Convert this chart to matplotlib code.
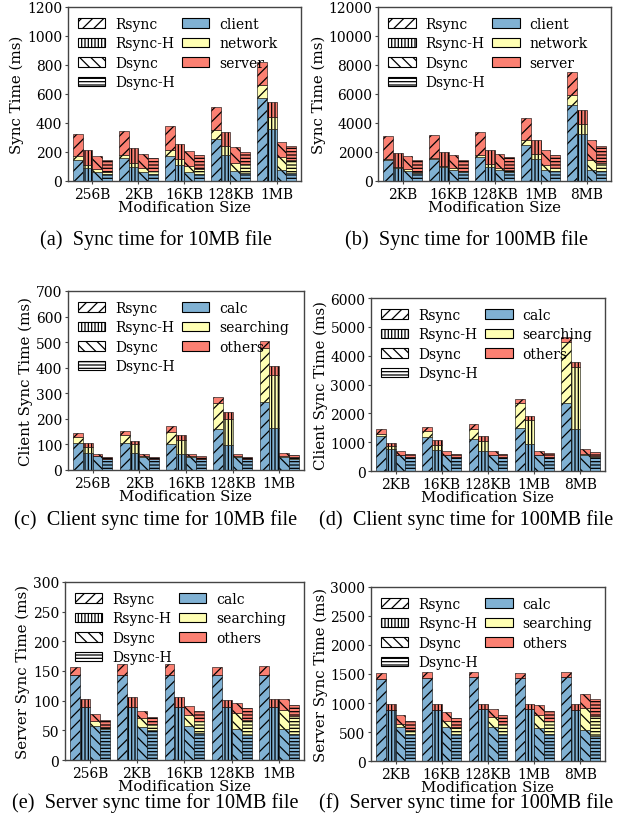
"""Stacked sync-time breakdown for Rsync / Dsync variants (six panels)."""

import os

os.environ.setdefault("MPLBACKEND", "Agg")
import matplotlib.pyplot as plt
from matplotlib.patches import Patch
import numpy as np

methods = ["Rsync", "Rsync-H", "Dsync", "Dsync-H"]
hatches = ["///", "|||||", "\\\\\\", "-----"]
sizes_10mb = ["256B", "2KB", "16KB", "128KB", "1MB"]
sizes_100mb = ["2KB", "16KB", "128KB", "1MB", "8MB"]
colors = ["#80b1d3", "#ffffb3", "#fb8072"]
parts_total = ["client", "network", "server"]
parts_side = ["calc", "searching", "others"]

# segment heights, one row per method (Rsync, Rsync-H, Dsync, Dsync-H)
a_client = [[148, 155, 171, 286, 572], [88, 97, 111, 180, 358],
            [65, 65, 65, 67, 76], [51, 51, 51, 53, 58]]
a_network = [[22, 23, 44, 65, 90], [22, 25, 39, 62, 85],
             [16, 23, 39, 60, 86], [14, 18, 34, 62, 85]]
a_server = [[153, 164, 163, 159, 160], [102, 104, 104, 97, 99],
            [92, 97, 104, 108, 110], [83, 86, 95, 88, 97]]

b_client = [[1430, 1523, 1662, 2492, 5262], [923, 969, 992, 1500, 3231],
            [692, 785, 762, 762, 762], [554, 623, 623, 669, 669]]
b_network = [[116, 69, 115, 300, 692], [69, 69, 162, 346, 692],
             [116, 115, 161, 323, 692], [69, 69, 115, 231, 600]]
b_server = [[1547, 1593, 1593, 1547, 1569], [970, 993, 992, 969, 969],
            [900, 923, 969, 1038, 1361], [808, 785, 901, 923, 1154]]

c_calc = [[105, 107, 101, 160, 267], [65, 65, 62, 98, 164],
          [53, 52, 52, 52, 51], [42, 42, 42, 42, 42]]
c_search = [[23, 30, 49, 102, 208], [26, 36, 56, 101, 208],
            [1, 1, 1, 1, 4], [1, 1, 1, 1, 7]]
c_others = [[16, 15, 23, 23, 29], [14, 12, 19, 29, 34],
            [8, 9, 9, 9, 11], [8, 8, 12, 8, 10]]

d_calc = [[1227, 1181, 1100, 1505, 2362], [776, 730, 683, 926, 1447],
          [544, 556, 544, 544, 544], [486, 486, 486, 486, 486]]
d_search = [[70, 209, 347, 869, 2119], [92, 173, 359, 846, 2154],
            [23, 10, 10, 10, 35], [12, 10, 10, 10, 35]]
d_others = [[150, 127, 174, 139, 163], [116, 162, 162, 150, 174],
            [128, 140, 141, 141, 174], [104, 106, 83, 118, 139]]

e_calc = [[144, 144, 144, 144, 144], [89, 89, 89, 89, 89],
          [58, 55, 58, 53, 53], [53, 51, 46, 42, 44]]
e_search = [[0, 0, 0, 0, 0], [0, 0, 0, 0, 0],
            [8, 16, 18, 26, 31], [3, 10, 20, 26, 30]]
e_others = [[13, 17, 18, 13, 14], [13, 17, 17, 12, 13],
            [12, 12, 15, 17, 18], [11, 11, 16, 20, 19]]

f_calc = [[1416, 1433, 1451, 1428, 1445], [879, 879, 896, 890, 884],
          [590, 590, 590, 561, 538], [474, 474, 474, 474, 434]]
f_search = [[0, 0, 0, 0, 0], [0, 0, 0, 0, 0],
            [52, 104, 161, 231, 375], [58, 104, 162, 220, 346]]
f_others = [[98, 104, 86, 86, 92], [104, 104, 87, 87, 99],
            [150, 150, 145, 173, 243], [150, 162, 156, 173, 289]]

panels = [
    ("(a)  Sync time for 10MB file", "Sync Time (ms)", sizes_10mb, parts_total,
     (a_client, a_network, a_server), 1200, 200, [0.109, 0.7826, 0.374, 0.2079]),
    ("(b)  Sync time for 100MB file", "Sync Time (ms)", sizes_100mb, parts_total,
     (b_client, b_network, b_server), 12000, 2000, [0.607, 0.7826, 0.374, 0.2079]),
    ("(c)  Client sync time for 10MB file", "Client Sync Time (ms)", sizes_10mb, parts_side,
     (c_calc, c_search, c_others), 700, 100, [0.109, 0.4373, 0.379, 0.2139]),
    ("(d)  Client sync time for 100MB file", "Client Sync Time (ms)", sizes_100mb, parts_side,
     (d_calc, d_search, d_others), 6000, 1000, [0.5955, 0.436, 0.3756, 0.2067]),
    ("(e)  Server sync time for 10MB file", "Server Sync Time (ms)", sizes_10mb, parts_side,
     (e_calc, e_search, e_others), 300, 50, [0.104, 0.0908, 0.384, 0.2127]),
    ("(f)  Server sync time for 100MB file", "Server Sync Time (ms)", sizes_100mb, parts_side,
     (f_calc, f_search, f_others), 3000, 500, [0.5955, 0.0896, 0.3756, 0.2079]),
]
caption_pos = [(0.25, 0.713), (0.748, 0.713), (0.25, 0.379), (0.748, 0.379),
               (0.25, 0.040), (0.748, 0.040)]

plt.rcParams["font.family"] = "DejaVu Serif"
plt.rcParams["hatch.linewidth"] = 0.9

fig = plt.figure(figsize=(6.23, 8.37), dpi=100)
width = 0.21
x = np.arange(5)

for (caption, ylabel, sizes, parts, segments, ymax, ystep, rect), cpos in zip(panels, caption_pos):
    ax = fig.add_axes(rect)
    for m, hatch in enumerate(hatches):
        pos = x + (m - 1.5) * width
        bottom = np.zeros(5)
        for seg, color in zip(segments, colors):
            vals = np.array(seg[m], dtype=float)
            ax.bar(pos, vals, width, bottom=bottom, color=color, edgecolor="black",
                   linewidth=0.4, hatch=hatch)
            bottom += vals
    ax.set_xlim(-0.53, 4.53)
    ax.set_ylim(0, ymax)
    ax.set_yticks(np.arange(0, ymax + 1, ystep))
    ax.set_xticks(x, sizes)
    ax.tick_params(labelsize=10, length=2.5, width=0.8, pad=1.5, color="#444444")
    ax.set_xlabel("Modification Size", fontsize=10.8, labelpad=-0.5)
    ax.set_ylabel(ylabel, fontsize=10.8, labelpad=2)
    for spine in ax.spines.values():
        spine.set_color("#444444")
        spine.set_linewidth(1.0)

    handles = [Patch(facecolor="white", edgecolor="black", hatch=h, linewidth=0.8)
               for h in hatches]
    handles += [Patch(facecolor=c, edgecolor="black", linewidth=0.8) for c in colors]
    ax.legend(handles, methods + parts, ncol=2, loc="upper left", frameon=False,
              fontsize=10, handlelength=2.0, handleheight=0.7, handletextpad=0.7,
              columnspacing=0.5, labelspacing=0.4, borderaxespad=0.3)

    fig.text(cpos[0], cpos[1], caption, ha="center", va="center",
             fontsize=14.6, family="Liberation Serif")

fig.savefig("out.png", dpi=100)
plt.close(fig)
